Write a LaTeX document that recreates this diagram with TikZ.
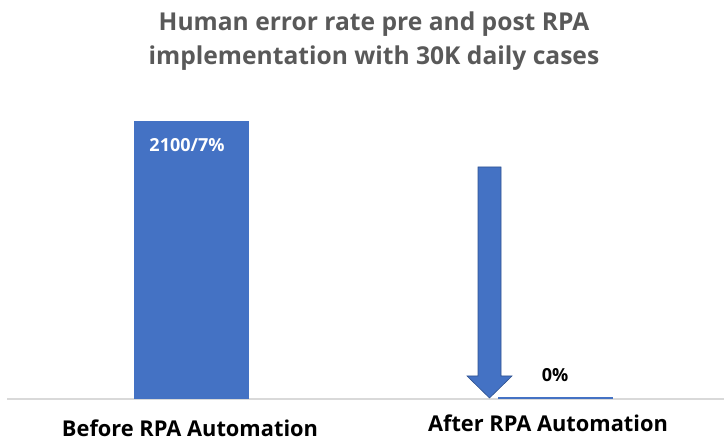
\documentclass[tikz,border=0pt]{standalone}
\usepackage{fontspec}
\setmainfont{Open Sans}[Ligatures=NoCommon]
\definecolor{barblue}{RGB}{68,114,196}
\definecolor{arrowedge}{RGB}{47,82,143}
\definecolor{titlegray}{RGB}{89,89,89}
\definecolor{axisgray}{RGB}{217,217,217}
\tikzset{
  bar/.style={fill=barblue, draw=none},
  titletext/.style={anchor=base, inner sep=0pt, font=\fontsize{24.6}{30}\selectfont\bfseries, text=titlegray},
  cattext/.style={anchor=base, inner sep=0pt, font=\fontsize{21.8}{26}\selectfont\bfseries, text=black},
  valtext/.style={anchor=base, inner sep=0pt, font=\fontsize{18}{22}\selectfont\bfseries},
}
\begin{document}
\begin{tikzpicture}[x=1pt, y=-1pt]
  \useasboundingbox (0,0) rectangle (724,443);
  % chart title, two lines
  \node[titletext] (title1) at (374,31) {Human error rate pre and post RPA};
  \node[titletext] (title2) at (374,65) {implementation with 30K daily cases};
  % horizontal axis
  \coordinate (axl) at (7,399);
  \coordinate (axr) at (724,399);
  \draw[axisgray, line width=1.2pt] (axl) -- (axr);
  % bars
  \path[bar] (134,121) rectangle (249,399);
  \path[bar] (498,397) rectangle (613,399);
  % data labels
  \node[valtext, text=white] (v1) at (187,152) {2100/7\%};
  \node[valtext, text=black] (v2) at (555,382) {0\%};
  % downward arrow
  \draw[fill=barblue, draw=arrowedge, line width=0.6pt]
    (478,167) -- (501,167) -- (501,376) -- (512,376) -- (489.5,398)
    -- (467,376) -- (478,376) -- cycle;
  % category labels
  \node[cattext] (c1) at (190,437) {Before RPA Automation};
  \node[cattext] (c2) at (548,432) {After RPA Automation};
\end{tikzpicture}
\end{document}
